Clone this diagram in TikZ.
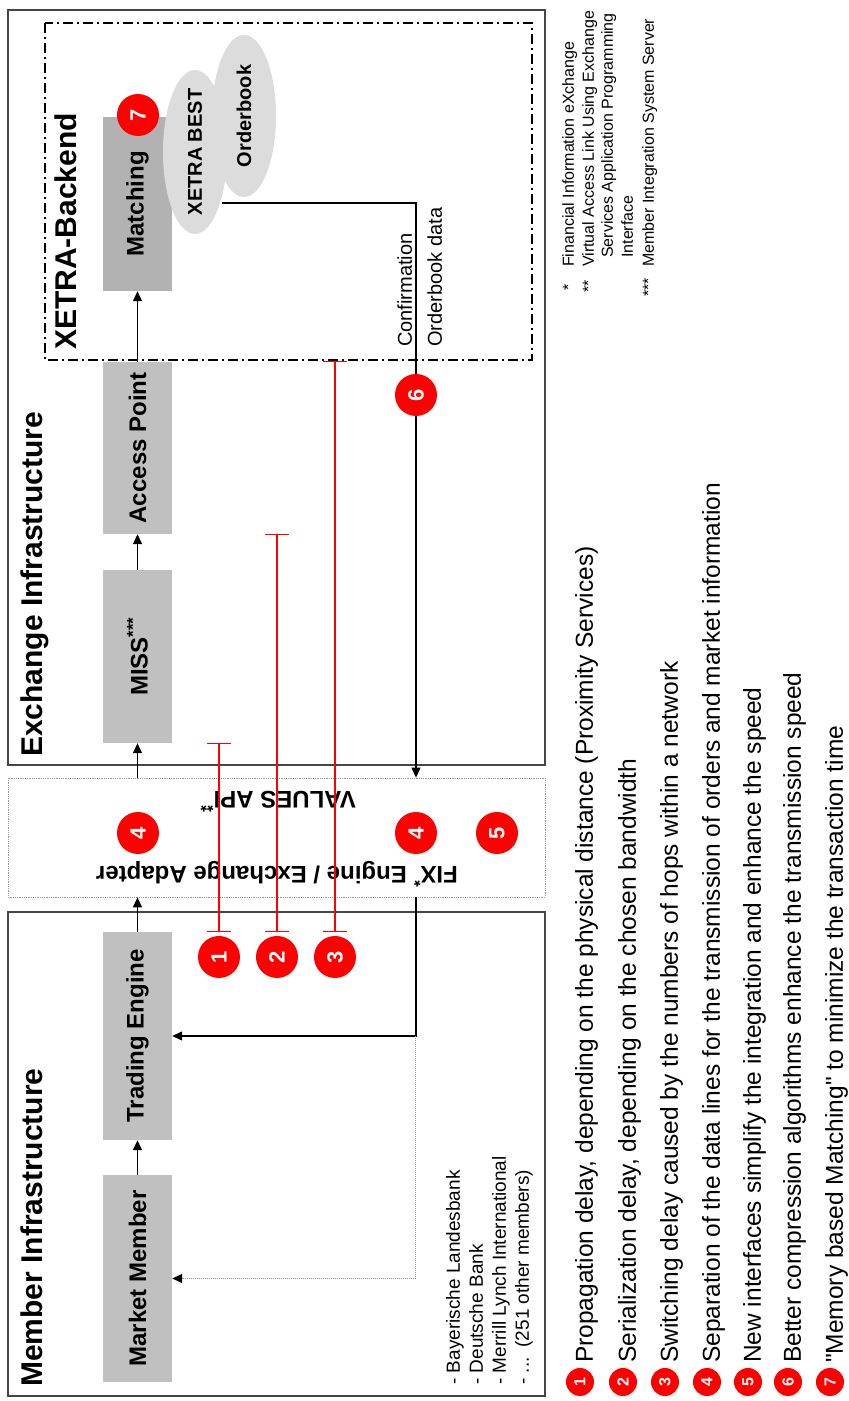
\documentclass[tikz,border=0pt]{standalone}
\usepackage{fontspec}
\setmainfont{Liberation Sans}
\usetikzlibrary{positioning,arrows.meta,shapes.geometric,calc}
\definecolor{unitgray}{RGB}{192,192,192}
\definecolor{matchgray}{RGB}{178,178,178}
\definecolor{blobgray}{RGB}{220,220,220}
\definecolor{framegray}{RGB}{70,70,70}
\definecolor{dotgray}{RGB}{150,150,150}

\tikzset{
  area/.style={draw=framegray, line width=1.5pt, inner sep=0pt},
  unit/.style={fill=unitgray, minimum height=69pt, inner sep=0pt,
    font=\fontsize{24}{28}\selectfont\bfseries},
  title/.style={anchor=base west, inner sep=0pt, font=\fontsize{30}{34}\selectfont\bfseries},
  badge/.style={circle, fill=red, text=white, inner sep=0pt, minimum size=42pt,
    font=\fontsize{22}{22}\selectfont\bfseries},
  keybadge/.style={badge, minimum size=28pt, font=\fontsize{16}{16}\selectfont\bfseries},
  delay/.style={red, line width=1.2pt, {Bar[width=24pt]}-{Bar[width=24pt]}},
  flow/.style={line width=1.3pt, -{Triangle[length=10pt,width=9pt]}},
  note/.style={anchor=base west, inner sep=0pt, font=\fontsize{24.5}{28}\selectfont},
  foot/.style={anchor=base west, inner sep=0pt, font=\fontsize{16}{19}\selectfont},
  small/.style={anchor=base west, inner sep=0pt, font=\fontsize{19}{23}\selectfont},
  lbl/.style={anchor=base west, inner sep=0pt, font=\fontsize{20}{24}\selectfont},
}

\begin{document}
\begin{tikzpicture}[x=1pt,y=1pt]
\begin{scope}[rotate=90, transform shape]
\useasboundingbox (0,0) rectangle (1401,849);

% areas
\node[area, minimum width=484pt, minimum height=537pt] (memb) at (247,572.5) {};
\node[draw=dotgray, densely dotted, line width=0.8pt, minimum width=119pt, minimum height=537pt, inner sep=0pt] (adapt) at (563.5,572.5) {};
\node[area, minimum width=755pt, minimum height=537pt] (exch) at (1013.5,572.5) {};
\node[draw, line width=1.2pt, dash pattern=on 10pt off 4pt on 2pt off 4pt, minimum width=337pt, minimum height=487pt, inner sep=0pt] (back) at (1209.5,560.5) {};

\node[title] (tmemb) at (14,806) {Member Infrastructure};
\node[title] (texch) at (644,806) {Exchange Infrastructure};
\node[title] (tback) at (1051,772) {XETRA-Backend};

% units
\node[unit, minimum width=207pt] (mm) at (122.5,711.5) {Market Member};
\node[unit, minimum width=208pt] (te) at (365,711.5) {Trading Engine};
\node[unit, minimum width=173pt] (miss) at (744.5,711.5) {MISS\textsuperscript{***}};
\node[unit, minimum width=172pt] (ap) at (953,711.5) {Access Point};
\node[unit, fill=matchgray, minimum width=174pt] (match) at (1197,711.5) {Matching};

% orderbook
\fill[blobgray] (1285,605) ellipse [x radius=81, y radius=32];
\fill[blobgray] (1249,654) ellipse [x radius=82, y radius=32];
\node[font=\fontsize{20}{24}\selectfont\bfseries] (book) at (1285,605) {Orderbook};
\node[font=\fontsize{20}{24}\selectfont\bfseries] (best) at (1249,654) {XETRA BEST};
\coordinate (bestout) at (1198,627);

% adapter
\node[rotate=90, font=\fontsize{24}{28}\selectfont\bfseries] (fix) at (527,572) {FIX\textsuperscript{*} Engine / Exchange Adapter};
\node[rotate=90, font=\fontsize{24}{28}\selectfont\bfseries] (vapi) at (599,571) {VALUES API\textsuperscript{**}};

% badges
\node[badge] (b1) at (444,630) {1};
\node[badge] (b2) at (444,572) {2};
\node[badge] (b3) at (444,514) {3};

% flows
\draw[flow] (mm) -- (te);
\draw[flow] (te) -- (te -| adapt.west);
\draw[flow] (miss -| adapt.east) -- (miss);
\draw[flow] (miss) -- (ap);
\draw[flow] (ap) -- (match);

% delays
\draw[delay] (te.east |- b1) -- (miss.west |- b1);
\draw[delay] (te.east |- b2) -- (ap.west |- b2);
\draw[delay] (te.east |- b3) -- (back.west |- b3);

% confirmation
\coordinate (back6) at (1006,433);
\node[lbl] (conf) at (1054,437) {Confirmation};
\node[lbl] (obdata) at (1054,407) {Orderbook data};
\draw[flow, line width=1.1pt] (bestout) |- (adapt.east |- back6);
\draw[flow] (adapt.west |- back6) -| (te);
\draw[densely dotted, dotgray, line width=1pt, -{Triangle[length=10pt,width=9pt,color=black]}] (te |- back6) -| (mm);

\node[badge] (b4a) at (568,711) {4};
\node[badge] (b4b) at (568,433) {4};
\node[badge] (b5) at (568,352) {5};
\node[badge] (b6) at (back6) {6};
\node[badge] (b7) at (1286,711) {7};

% members
\node[small] (m1) at (16,389) {- Bayerische Landesbank};
\node[small] (m2) at (16,366) {- Deutsche Bank};
\node[small] (m3) at (16,343) {- Merrill Lynch International};
\node[small] (m4) at (16,320) {- ...\hspace{10pt}(251 other members)};

% footnotes
\node[foot] (f1m) at (1110,275) {*};
\node[foot] (f1) at (1134,275) {Financial Information eXchange};
\node[foot] (f2m) at (1108,255) {**};
\node[foot] (f2) at (1134,255) {Virtual Access Link Using Exchange};
\node[foot] (f3) at (1143,236) {Services Application Programming};
\node[foot] (f4) at (1143,216) {Interface};
\node[foot] (f5m) at (1104,195) {***};
\node[foot] (f5) at (1134,195) {Member Integration System Server};

% key
\node[keybadge] (k1) at (19,269) {1};
\node[note] (t1) at (38,256) {Propagation delay, depending on the physical distance (Proximity Services)};
\node[keybadge] (k2) at (19,226) {2};
\node[note] (t2) at (38,213) {Serialization delay, depending on the chosen bandwidth};
\node[keybadge] (k3) at (19,184) {3};
\node[note] (t3) at (38,171) {Switching delay caused by the numbers of hops within a network};
\node[keybadge] (k4) at (19,142) {4};
\node[note] (t4) at (38,129) {Separation of the data lines for the transmission of orders and market information};
\node[keybadge] (k5) at (19,101) {5};
\node[note] (t5) at (38,88) {New interfaces simplify the integration and enhance the speed};
\node[keybadge] (k6) at (19,61) {6};
\node[note] (t6) at (38,48) {Better compression algorithms enhance the transmission speed};
\node[keybadge] (k7) at (19,19) {7};
\node[note] (t7) at (38,6) {\textquotedbl Memory based Matching\textquotedbl{} to minimize the transaction time};

\end{scope}
\end{tikzpicture}
\end{document}
